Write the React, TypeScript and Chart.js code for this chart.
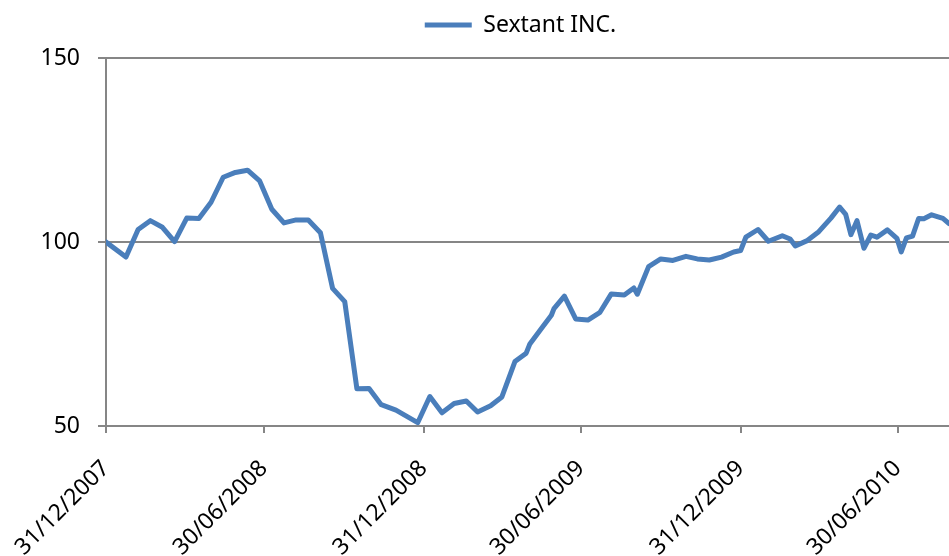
import React, { useEffect, useRef } from 'react';
import { Chart, registerables } from 'chart.js';

Chart.register(...registerables);

const seriesName = 'Sextant INC.';

const dates = [
  '2007-12-31', '2008-01-23', '2008-02-06', '2008-02-20', '2008-03-05', '2008-03-19',
  '2008-04-02', '2008-04-16', '2008-04-30', '2008-05-14', '2008-05-28', '2008-06-11',
  '2008-06-25', '2008-07-09', '2008-07-23', '2008-08-06', '2008-08-20', '2008-09-03',
  '2008-09-17', '2008-10-01', '2008-10-15', '2008-10-29', '2008-11-12', '2008-11-29',
  '2008-12-24', '2009-01-07', '2009-01-21', '2009-02-04', '2009-02-18', '2009-03-03',
  '2009-03-18', '2009-03-31', '2009-04-15', '2009-04-28', '2009-05-02', '2009-05-14',
  '2009-05-27', '2009-05-30', '2009-06-11', '2009-06-24', '2009-07-08', '2009-07-22',
  '2009-08-04', '2009-08-19', '2009-08-30', '2009-09-03', '2009-09-16', '2009-09-30',
  '2009-10-14', '2009-10-29', '2009-11-11', '2009-11-25', '2009-12-09', '2009-12-23',
  '2009-12-31', '2010-01-06', '2010-01-20', '2010-02-01', '2010-02-17', '2010-02-26',
  '2010-03-04', '2010-03-17', '2010-03-31', '2010-04-14', '2010-04-24', '2010-05-01',
  '2010-05-07', '2010-05-14', '2010-05-22', '2010-05-30', '2010-06-06', '2010-06-18',
  '2010-06-29', '2010-07-04', '2010-07-10', '2010-07-17', '2010-07-24', '2010-07-30',
  '2010-08-08', '2010-08-21', '2010-08-28',
];

const values = [
  100.0, 95.9, 103.4, 105.8, 104.0, 100.1,
  106.5, 106.4, 110.8, 117.6, 118.9, 119.5,
  116.6, 108.9, 105.2, 106.0, 106.0, 102.5,
  87.4, 83.8, 60.1, 60.2, 55.8, 54.3,
  50.9, 58.0, 53.6, 56.1, 56.8, 53.8,
  55.5, 57.9, 67.5, 69.8, 72.2, 76.0,
  80.1, 81.9, 85.3, 79.1, 78.8, 80.9,
  85.9, 85.6, 87.5, 85.8, 93.3, 95.4,
  95.0, 96.1, 95.4, 95.1, 95.9, 97.3,
  97.7, 101.3, 103.4, 100.2, 101.7, 100.8,
  98.9, 100.3, 102.8, 106.5, 109.5, 107.5,
  102.0, 105.8, 98.3, 101.9, 101.3, 103.3,
  101.0, 97.3, 101.1, 101.6, 106.4, 106.3,
  107.4, 106.4, 105.0,
];

const tickDates = ['2007-12-31', '2008-06-30', '2008-12-31', '2009-06-30', '2009-12-31', '2010-06-30'];
const tickLabels = ['31/12/2007', '30/06/2008', '31/12/2008', '30/06/2009', '31/12/2009', '30/06/2010'];
const xStartDate = '2007-12-31';
const xEndDate = '2010-08-28';
const yMin = 50;
const yMax = 150;
const yStep = 50;

const dayOf = (s: string) => {
  const [y, m, d] = s.split('-').map(Number);
  const [y0, m0, d0] = xStartDate.split('-').map(Number);
  return Math.round((Date.UTC(y, m - 1, d) - Date.UTC(y0, m0 - 1, d0)) / 86400000);
};

const FONT = "'Noto Sans', 'Open Sans', sans-serif";
const LINE = '#4A7EBB';
const AXIS = '#868686';

// The legend is centred over the plot of the (wider) original chart, not the whole canvas,
// and sits a little higher above the plot than Chart.js places it.
const legendShift = {
  id: 'legendShift',
  afterLayout(chart: any) {
    const l = chart.legend;
    if (l) {
      l.left += 46;
      l.right += 46;
      l.top -= 11.5;
      l.bottom -= 11.5;
    }
  },
};

export default function App() {
  const ref = useRef<HTMLCanvasElement | null>(null);

  useEffect(() => {
    document.body.style.margin = '0';
    const canvas = ref.current;
    if (!canvas) return;
    const points = dates.map((d, i) => ({ x: dayOf(d), y: values[i] }));
    const tickValues = tickDates.map(dayOf);

    const chart = new Chart(canvas, {
      type: 'line',
      data: {
        datasets: [
          {
            label: seriesName,
            data: points,
            borderColor: LINE,
            backgroundColor: LINE,
            borderWidth: 5,
            pointRadius: 0,
            tension: 0,
            borderJoinStyle: 'round',
            borderCapStyle: 'round',
          },
        ],
      },
      plugins: [legendShift],
      options: {
        responsive: false,
        animation: false,
        layout: { padding: { top: 0, left: 0, right: 0, bottom: 0 } },
        plugins: {
          tooltip: { enabled: false },
          legend: {
            display: true,
            position: 'top',
            labels: {
              boxWidth: 47,
              boxHeight: 5,
              color: '#000',
              padding: 13.5,
              font: { family: FONT, size: 23 },
              generateLabels: (chart: any) =>
                Chart.defaults.plugins.legend.labels
                  .generateLabels(chart)
                  .map((item: any) => ({ ...item, lineWidth: 0 })),
            },
          },
        },
        scales: {
          x: {
            type: 'linear',
            min: 0,
            max: dayOf(xEndDate),
            afterBuildTicks: (s: any) => {
              s.ticks = tickValues.map((v) => ({ value: v }));
            },
            afterFit: (s: any) => {
              s.height = 130;
              s.paddingRight = 0;
              s.paddingLeft = 0;
            },
            ticks: {
              autoSkip: false,
              minRotation: 45,
              maxRotation: 45,
              color: '#000',
              padding: 22,
              font: { family: FONT, size: 23 },
              callback: (v: any) => {
                const i = tickValues.indexOf(Number(v));
                return i >= 0 ? tickLabels[i] : '';
              },
            },
            grid: {
              drawOnChartArea: false,
              drawTicks: true,
              tickLength: 7,
              color: AXIS,
              lineWidth: 2,
            },
            border: { color: AXIS, width: 2 },
          },
          y: {
            min: yMin,
            max: yMax,
            afterFit: (s: any) => {
              s.width = 106;
              s.paddingTop = 58;
            },
            ticks: {
              stepSize: yStep,
              color: '#000',
              padding: 18,
              font: { family: FONT, size: 23 },
            },
            grid: {
              color: AXIS,
              lineWidth: 2,
              tickLength: 8,
            },
            border: { color: AXIS, width: 2 },
          },
        },
      },
    });
    return () => chart.destroy();
  }, []);

  return (
    <div style={{ width: 949, height: 556, background: '#fff' }}>
      <canvas ref={ref} width={949} height={556} />
    </div>
  );
}
